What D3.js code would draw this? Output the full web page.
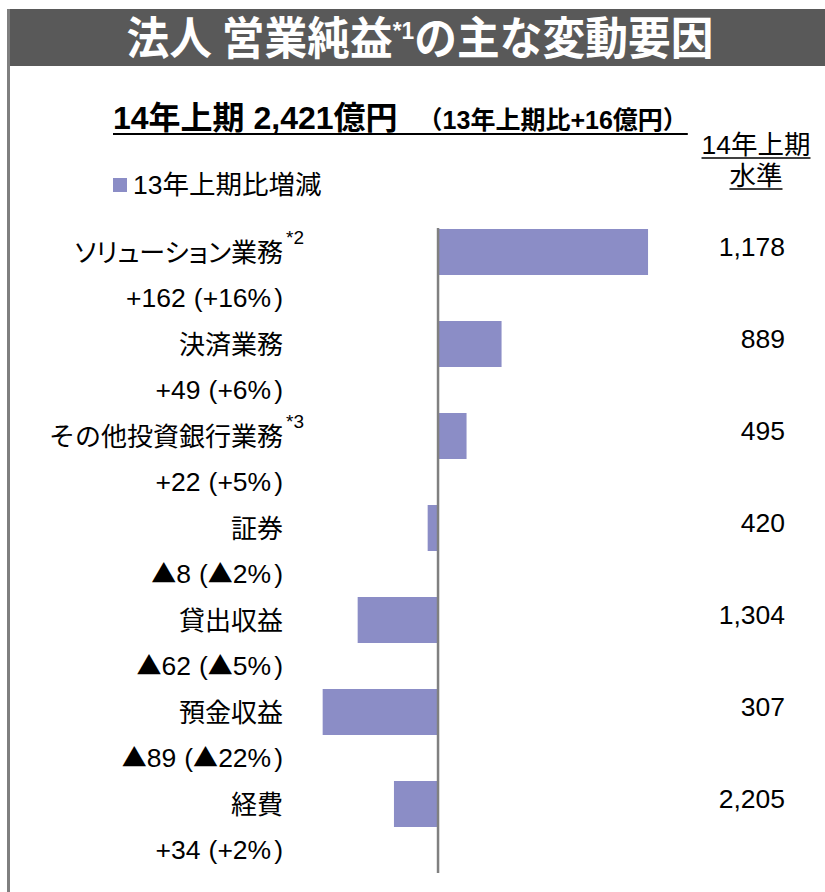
<!DOCTYPE html>
<html>
<head>
<meta charset="utf-8">
<script src="https://cdn.jsdelivr.net/npm/d3@7/dist/d3.min.js"></script>
<style>
  html, body { margin: 0; padding: 0; background: #fff; }
  svg { display: block; }
  text { font-family: "Liberation Sans", Arial, "Noto Sans CJK JP", sans-serif; fill: #000; }
</style>
</head>
<body>
<svg id="chart" width="825" height="892"></svg>
<script>
// Corporate operating profit: main drivers of change (H1 FY14 vs H1 FY13), 100M yen
const categories = ["ソリューション業務", "決済業務", "その他投資銀行業務", "証券", "貸出収益", "預金収益", "経費"];
const footnoteMarks = ["*2", "", "*3", "", "", "", ""];
const changeValues = [162, 49, 22, -8, -62, -89, 34];      // change vs H1 FY13
const changePercents = [16, 6, 5, -2, -5, -22, 2];          // % change vs H1 FY13
const isExpense = [false, false, false, false, false, false, true]; // expense increases reduce profit
const levelValues = [1178, 889, 495, 420, 1304, 307, 2205]; // H1 FY14 level

const titleText = "法人 営業純益";
const titleSup = "*1";
const titleRest = "の主な変動要因";
const subtitleMain = "14年上期 2,421億円";
const subtitleSub = "（13年上期比+16億円）";
const legendLabel = "13年上期比増減";
const levelHeader = ["14年上期", "水準"];

const barColor = "#8b8dc6";
const fmtNum = d3.format(",");
const CJK = "'Noto Sans CJK JP', sans-serif";

const svg = d3.select("#chart");

// Title band and left frame
svg.append("rect").attr("x", 8).attr("y", 9).attr("width", 817).attr("height", 57).attr("fill", "#595959");
svg.append("line").attr("x1", 8.5).attr("x2", 8.5).attr("y1", 9).attr("y2", 892)
  .attr("stroke", "#7f7f7f").attr("stroke-width", 3);

const title = svg.append("g").attr("transform", "translate(420,55) scale(0.95,1)")
  .append("text")
  .attr("text-anchor", "middle")
  .style("font-family", CJK)
  .style("font-weight", "bold").style("font-size", "45px").style("fill", "#fff");
title.append("tspan").text(titleText);
title.append("tspan").attr("dy", -16).style("font-size", "24px")
  .style("font-family", "'Liberation Sans', Arial, sans-serif").text(titleSup);
title.append("tspan").attr("dy", 16).text(titleRest);

// Subtitle with underline
const sub = svg.append("text").attr("x", 113).attr("y", 129)
  .style("font-weight", "bold");
sub.append("tspan").style("font-size", "32px").text(subtitleMain);
sub.append("tspan").attr("dx", 20).style("font-size", "25px").text(subtitleSub);
const sb = sub.node().getBBox();
svg.append("line").attr("x1", sb.x).attr("x2", sb.x + sb.width).attr("y1", 134).attr("y2", 134)
  .attr("stroke", "#000").attr("stroke-width", 2);

// Legend
svg.append("rect").attr("x", 113).attr("y", 178).attr("width", 14).attr("height", 14).attr("fill", barColor);
svg.append("text").attr("x", 133).attr("y", 194).style("font-size", "26.5px").text(legendLabel);

// Level column header (underlined)
levelHeader.forEach((h, i) => {
  const t = svg.append("text").attr("x", 756).attr("y", 154 + i * 31)
    .attr("text-anchor", "middle").style("font-size", "26.5px").text(h);
  const b = t.node().getBBox();
  svg.append("line").attr("x1", b.x).attr("x2", b.x + b.width)
    .attr("y1", 158 + i * 31).attr("y2", 158 + i * 31)
    .attr("stroke", "#000").attr("stroke-width", 1.5);
});

// Scales
const y = d3.scaleBand().domain(categories).range([229, 827]).paddingInner(0.5).paddingOuter(0);
const x = d3.scaleLinear().domain([-100, 200]).range([308.4, 697.3]);
const impact = changeValues.map((v, i) => isExpense[i] ? -v : v);

const rows = categories.map((c, i) => ({
  cat: c, mark: footnoteMarks[i], change: changeValues[i], pct: changePercents[i],
  impact: impact[i], level: levelValues[i]
}));

// Bars
svg.append("g").selectAll("rect").data(rows).join("rect")
  .attr("x", d => x(Math.min(0, d.impact)))
  .attr("width", d => Math.abs(x(d.impact) - x(0)))
  .attr("y", d => y(d.cat))
  .attr("height", y.bandwidth())
  .attr("fill", barColor);

// Zero axis
svg.append("line")
  .attr("x1", x(0)).attr("x2", x(0))
  .attr("y1", y(categories[0]) - 1).attr("y2", y(categories[categories.length - 1]) + y.step())
  .attr("stroke", "#808080").attr("stroke-width", 2.5);

// Signed number as tspans: "+" prefix or a ▲ mark for decreases
function appendSigned(text, v, suffix) {
  if (v < 0) text.append("tspan").style("font-family", CJK).style("font-size", "25px").text("▲");
  else text.append("tspan").text("+");
  text.append("tspan").text(Math.abs(v) + (suffix || ""));
}

// Category, change and level labels
const labels = svg.append("g");
rows.forEach(d => {
  const cy = y(d.cat) + y.bandwidth() / 2;
  labels.append("text").attr("x", 283).attr("y", cy + 10)
    .attr("text-anchor", "end")
    .style("font-size", "26px")
    .style("font-family", CJK)
    .style("font-feature-settings", /[ァ-ヶー]/.test(d.cat) ? "'palt'" : "normal")
    .text(d.cat);
  if (d.mark) {
    labels.append("text").attr("x", 286).attr("y", cy - 8)
      .style("font-size", "19px").text(d.mark);
  }
  const t = labels.append("text").attr("x", 283).attr("y", cy + 55)
    .attr("text-anchor", "end")
    .style("font-size", "26.5px");
  appendSigned(t, d.change);
  t.append("tspan").attr("dx", 8).text("(");
  appendSigned(t, d.pct, "%");
  t.append("tspan").attr("dx", 3).text(")");

  labels.append("text").attr("x", 785).attr("y", cy + 4)
    .attr("text-anchor", "end")
    .style("font-size", "26.5px")
    .text(fmtNum(d.level));
});
</script>
</body>
</html>
